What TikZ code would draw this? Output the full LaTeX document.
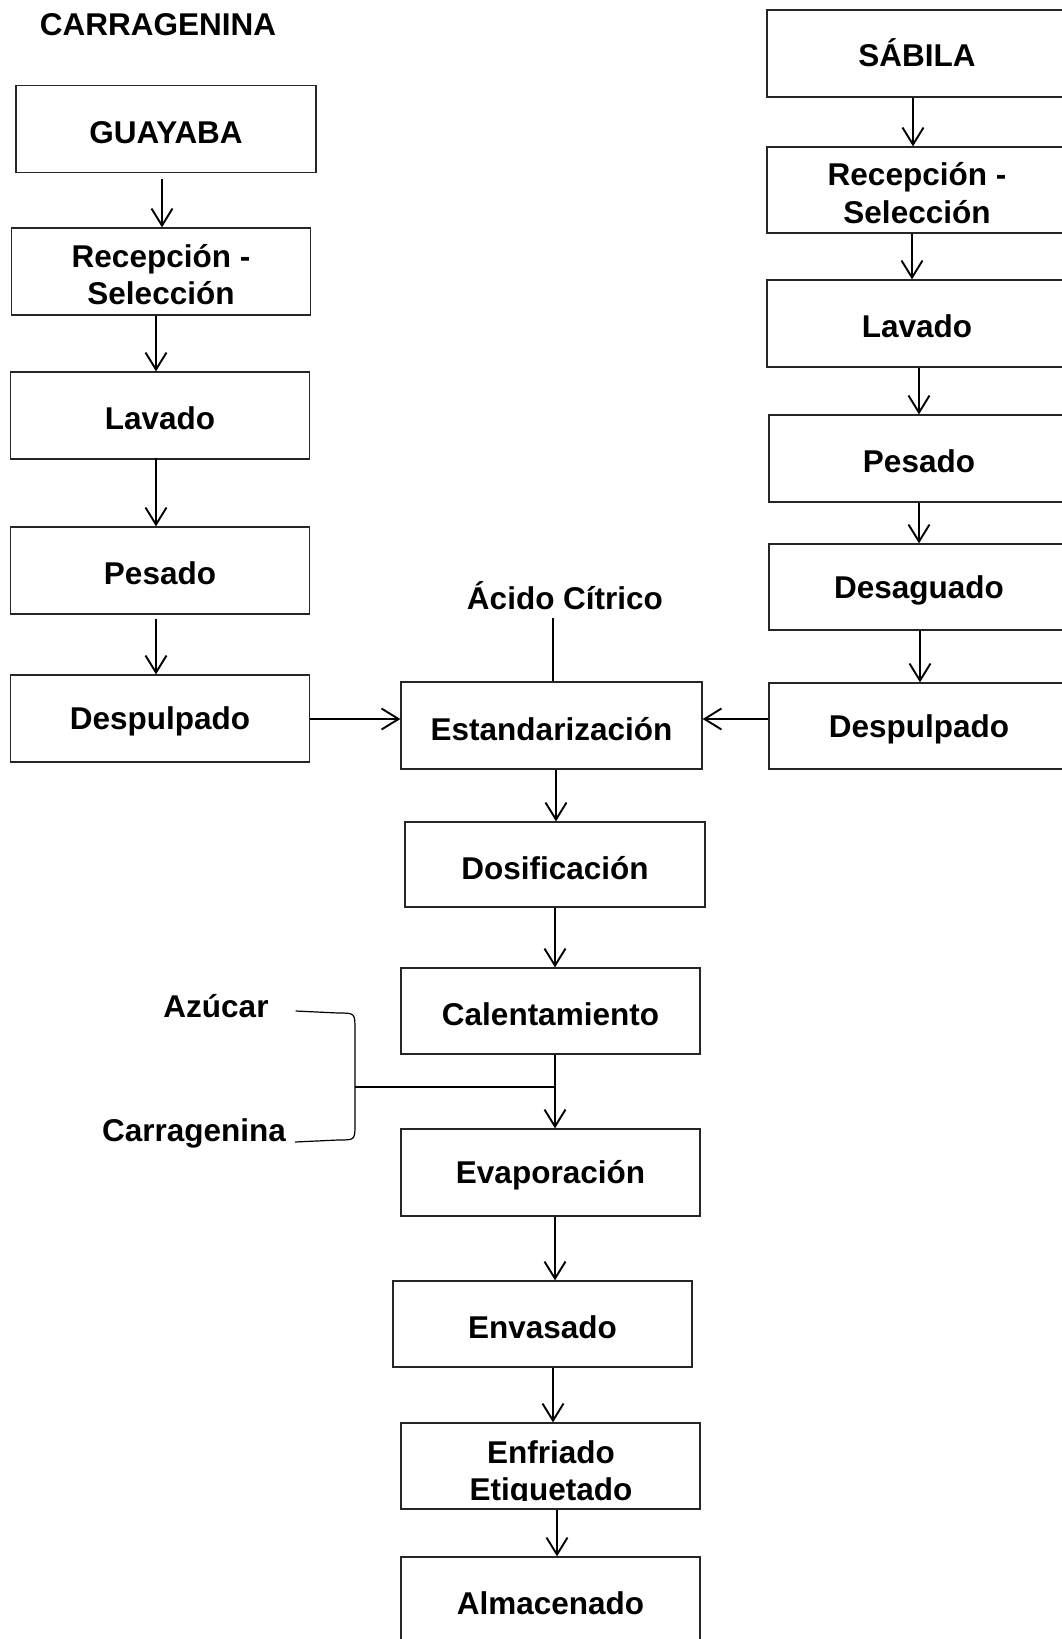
\documentclass[tikz,border=0pt]{standalone}
\usepackage{fontspec}
\setmainfont{Liberation Sans}
\usetikzlibrary{arrows.meta}
\begin{document}
\begin{tikzpicture}[x=1pt,y=-1pt,
  box/.style={draw=black!85,line width=1.3pt,minimum width=299pt,minimum height=87pt,inner sep=0pt},
  txt/.style={inner sep=0pt,align=center,font=\bfseries\fontsize{31.5}{37.5}\selectfont},
  lbl/.style={label={[txt,yshift=-3.2pt]center:{#1}}},
  lblacc/.style={label={[txt,yshift=0.8pt]center:{#1}}},
  arr/.style={line width=1.9pt,-{Straight Barb[length=17pt,width=21pt,line width=1.9pt]}},
  ln/.style={line width=1.9pt},
  thinln/.style={line width=1.2pt}]
\path[use as bounding box] (0,0) rectangle (1062,1639);
\clip (0,0) rectangle (1062,1639);
\node[txt] (title) at (158,25) {CARRAGENINA};
% left column
\node[box,minimum width=300pt,lbl={GUAYABA}] (gua) at (166,129) {};
\node[box,lbl={Recepción -\\Selección}] (recL) at (161,271.5) {};
\node[box,lbl={Lavado}] (lavL) at (160,415.5) {};
\node[box,lbl={Pesado}] (pesL) at (160,570.5) {};
\node[box,lbl={Despulpado}] (despL) at (160,718.5) {};
% right column
\node[box,minimum width=300pt,lblacc={SÁBILA}] (sab) at (917,53.5) {};
\node[box,minimum width=300pt,minimum height=86pt,lbl={Recepción -\\Selección}] (recR) at (917,190) {};
\node[box,minimum width=300pt,lbl={Lavado}] (lavR) at (917,323.5) {};
\node[box,minimum width=300pt,lbl={Pesado}] (pesR) at (919,458.5) {};
\node[box,minimum width=300pt,minimum height=86pt,lbl={Desaguado}] (desag) at (919,587) {};
\node[box,minimum width=300pt,minimum height=86pt,lbl={Despulpado}] (despR) at (919,726) {};
% centre column
\node[txt] (acido) at (565,596) {Ácido Cítrico};
\coordinate (acl) at (553,618);
\node[box,minimum width=301pt,lbl={Estandarización}] (est) at (551.5,725.5) {};
\node[box,minimum width=300pt,minimum height=85pt,lbl={Dosificación}] (dos) at (555,864.5) {};
\node[box,minimum height=86pt,lbl={Calentamiento}] (cal) at (550.5,1011) {};
\node[box,lbl={Evaporación}] (eva) at (550.5,1172.5) {};
\node[box,minimum height=86pt,lbl={Envasado}] (env) at (542.5,1324) {};
\node[box,minimum height=86pt] (enf) at (550.5,1466) {};
\begin{scope}
  \clip ([xshift=2pt,yshift=-2pt]enf.north west) rectangle ([xshift=-2pt,yshift=9.5pt]enf.south east);
  \node[txt] (enftxt) at (551,1474) {Enfriado\\Etiquetado};
\end{scope}
\node[box,lbl={Almacenado}] (alm) at (550.5,1600.5) {};
% inputs
\node[txt] (azu) at (216,1006) {Azúcar};
\node[txt] (carr) at (194,1133) {Carragenina};
\coordinate (jn) at (555,1087);
\coordinate (br) at (355,1087);
% left arrows
\draw[arr] ([yshift=-6pt]gua.south -| 162,0) -- (recL.north -| 162,0);
\draw[arr] (recL.south -| 156,0) -- (lavL.north -| 156,0);
\draw[arr] ([yshift=2pt]lavL.south -| 156,0) -- (pesL.north -| 156,0);
\draw[arr] ([yshift=-4pt]pesL.south -| 156,0) -- (despL.north -| 156,0);
% right arrows
\draw[arr] (sab.south -| 913,0) -- (recR.north -| 913,0);
\draw[arr] (recR.south -| 912,0) -- (lavR.north -| 912,0);
\draw[arr] (lavR.south -| 919,0) -- (pesR.north -| 919,0);
\draw[arr] (pesR.south -| 919,0) -- (desag.north -| 919,0);
\draw[arr] (desag.south -| 920,0) -- (despR.north -| 920,0);
% into Estandarizacion
\draw[arr] (despL.east |- 0,719) -- (est.west |- 0,719);
\draw[arr] (despR.west |- 0,719) -- (est.east |- 0,719);
\draw[ln] (acl) -- (est.north -| acl);
% centre arrows
\draw[arr] (est.south -| 556,0) -- (dos.north -| 556,0);
\draw[arr] (dos.south -| 555,0) -- (cal.north -| 555,0);
\draw[arr] (cal.south -| 555,0) -- (eva.north -| 555,0);
\draw[arr] (eva.south -| 555,0) -- (env.north -| 555,0);
\draw[arr] (env.south -| 553,0) -- (enf.north -| 553,0);
\draw[arr] (enf.south -| 557,0) -- (alm.north -| 557,0);
% bracket
\draw[thinln] ([xshift=27pt]azu.east |- 0,1011) -- (338,1013) .. controls (355,1013) .. (355,1030) -- (355,1124) .. controls (355,1140) .. (338,1140) -- ([xshift=9pt]carr.east |- 0,1142);
\draw[ln] (br) -- (jn);
\end{tikzpicture}
\end{document}
